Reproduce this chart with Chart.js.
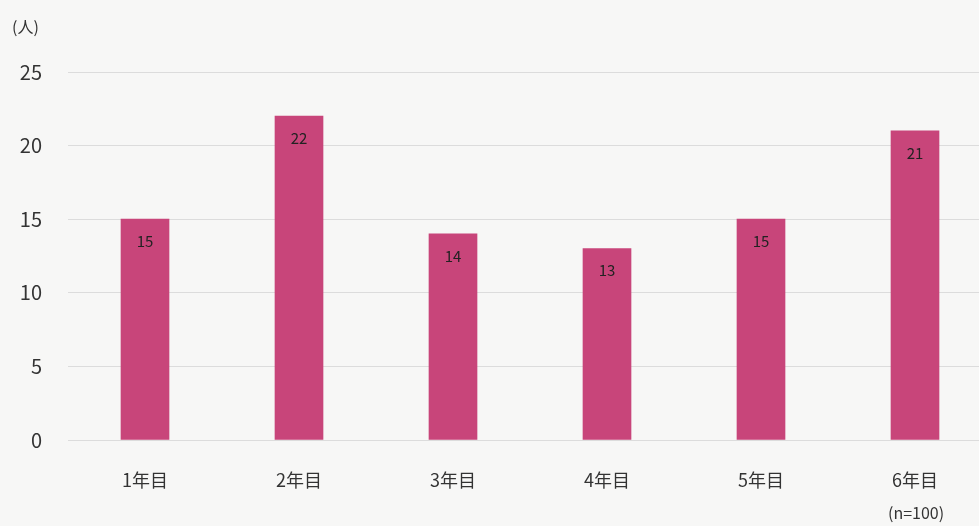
<!DOCTYPE html>
<html>
<head>
<meta charset="utf-8">
<script src="https://cdn.jsdelivr.net/npm/chart.js@4/dist/chart.umd.min.js"></script>
<style>
html,body{margin:0;padding:0;background:#f7f7f6;overflow:hidden;}
#wrap{width:979px;height:526px;overflow:hidden;position:relative;}
#wrap canvas{position:absolute;left:0;top:0;}
</style>
</head>
<body>
<div id="wrap"><canvas id="c" width="1000" height="526" style="width:1000px;height:526px"></canvas></div>
<script>
var years = ['1年目','2年目','3年目','4年目','5年目','6年目'];
var people = [15,22,14,13,15,21];
var yTicks = [0,5,10,15,20,25];

var FONT = "'Noto Sans CJK JP','Noto Sans',sans-serif";

// value labels near the top of each bar, plus the unit and sample-size notes
var labelPlugin = {
	id:'labels',
	afterDatasetsDraw:function(chart){
		var ctx = chart.ctx;
		ctx.save();
		ctx.fillStyle = '#222';
		ctx.font = '15px ' + FONT;
		ctx.textAlign = 'center';
		ctx.textBaseline = 'middle';
		chart.getDatasetMeta(0).data.forEach(function(bar,i){
			ctx.fillText(people[i], bar.x, bar.y + 22);
		});
		ctx.fillStyle = '#333';
		ctx.textAlign = 'left';
		ctx.font = '16px ' + FONT;
		ctx.fillText('(人)', 12, 27);
		ctx.font = '16px ' + FONT;
		ctx.fillText('(n=100)', 888, 513);
		ctx.restore();
	}
};

new Chart(document.getElementById('c').getContext('2d'),{
	type:'bar',
	data:{
		labels:years,
		datasets:[{
			data:people,
			backgroundColor:'#c8457a',
			barThickness:48
		}]
	},
	options:{
		responsive:false,
		animation:false,
		layout:{padding:{top:72,right:8,left:0,bottom:0}},
		plugins:{legend:{display:false},tooltip:{enabled:false}},
		scales:{
			x:{
				grid:{display:false,drawTicks:false},
				border:{display:false},
				ticks:{color:'#333',font:{family:FONT,size:18},padding:29},
				afterFit:function(s){ s.height = 86; }
			},
			y:{
				min:0,max:25,
				afterBuildTicks:function(s){ s.ticks = yTicks.map(function(v){ return {value:v}; }); },
				grid:{color:'#dcdcdc',lineWidth:1,drawTicks:false},
				border:{display:false},
				ticks:{color:'#333',font:{family:FONT,size:20},padding:26},
				afterFit:function(s){ s.width = 68; }
			}
		}
	},
	plugins:[labelPlugin]
});
</script>
</body>
</html>
